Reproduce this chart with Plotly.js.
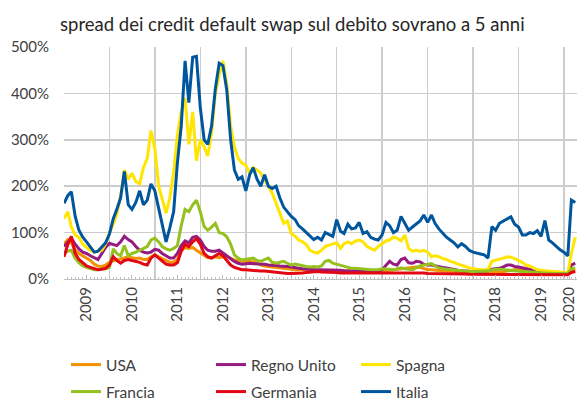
<!DOCTYPE html>
<html>
<head>
<meta charset="utf-8">
<script src="https://cdn.plot.ly/plotly-3.0.1.min.js"></script>
<style>html,body{margin:0;padding:0;background:#fff;}#chart{width:577px;height:401px;}</style>
</head>
<body>
<div id="chart"></div>
<script>
// Monthly observations, first month = January 2009
const startYear = 2009;
const startMonth = 1;

const seriesNames = ["USA", "Regno Unito", "Spagna", "Francia", "Germania", "Italia"];

const usa = [75,85,78,62,55,50,45,40,32,28,27,30,
  36,40,42,43,46,48,46,44,45,42,42,48,
  52,48,44,40,36,36,42,62,68,66,68,62,
  56,50,46,46,48,46,48,48,44,41,40,38,
  38,38,37,34,30,28,27,26,25,24,22,22,
  21,20,20,20,20,19,19,18,18,18,18,18,
  18,18,18,18,17,17,17,17,17,17,17,17,
  18,18,19,20,21,22,22,23,25,26,25,22,
  20,20,19,19,18,18,17,16,16,15,15,15,
  15,15,15,15,15,15,15,16,16,17,18,20,
  22,20,18,16,15,15,14,13,12,12,12,12,
  12,12,18,20];

const regnoUnito = [70,80,88,75,65,58,55,50,45,42,55,68,
  77,75,72,80,92,85,80,70,62,58,56,58,
  64,62,55,50,45,45,55,72,82,78,90,92,
  84,70,62,60,60,62,56,50,42,38,34,32,
  33,34,33,33,32,32,30,30,29,28,28,27,
  26,24,23,22,21,21,20,20,20,20,20,19,
  19,19,18,18,18,17,17,17,16,16,16,17,
  20,30,38,32,30,42,45,35,34,38,37,32,
  30,30,28,27,25,24,22,20,19,18,17,16,
  16,16,17,18,18,21,22,23,26,30,30,27,
  26,24,22,20,19,18,17,16,15,14,14,13,
  12,12,30,34];

const spagna = [130,145,112,95,90,75,68,62,58,60,62,75,
  100,118,140,180,235,215,228,210,205,240,260,320,
  280,200,175,142,175,230,310,360,390,290,360,255,
  300,285,265,315,400,440,470,420,330,285,260,250,
  245,228,240,235,228,215,200,185,165,142,120,125,
  98,92,84,80,74,62,58,56,62,70,73,76,
  78,66,76,80,76,82,84,80,70,66,62,70,
  77,82,84,90,88,82,95,66,60,62,60,62,
  58,48,50,48,44,42,38,36,32,30,27,24,
  22,21,20,20,20,38,40,42,45,48,47,44,
  40,36,30,28,24,20,19,18,16,16,16,15,
  15,13,55,90];

const francia = [55,60,62,45,35,28,25,22,20,20,22,22,
  25,65,55,50,72,50,55,58,62,65,70,84,
  88,80,70,65,62,66,72,115,150,145,160,170,
  145,113,105,112,120,100,98,91,75,52,45,41,
  42,44,45,40,38,42,45,36,34,36,38,34,
  30,32,30,28,27,26,27,26,28,38,40,34,
  32,30,27,25,23,23,22,22,20,20,20,20,
  22,22,21,20,22,24,22,21,20,24,28,30,
  32,33,28,24,22,21,20,19,18,18,16,16,
  16,16,16,17,18,20,21,21,20,20,19,18,
  17,16,16,15,15,14,13,13,12,12,12,12,
  12,12,22,24];

const germania = [48,75,92,55,42,35,28,25,22,20,21,23,
  30,48,40,34,40,42,40,38,36,32,30,45,
  52,45,38,32,30,30,35,60,75,70,80,87,
  75,55,48,45,50,55,50,40,30,25,22,20,
  20,19,18,18,17,17,16,16,15,14,13,12,
  12,12,13,13,14,15,16,16,15,15,14,14,
  14,13,13,13,13,14,14,14,14,14,14,14,
  14,14,14,14,13,13,13,13,13,13,13,13,
  12,12,12,12,11,11,11,11,11,11,11,10,
  10,10,10,10,10,10,10,10,10,10,10,10,
  10,9,9,9,9,9,9,9,9,9,9,9,
  9,9,14,16];

const italia = [163,180,188,135,105,90,80,69,58,60,68,78,
  97,130,150,175,232,160,150,165,190,160,170,205,
  190,150,120,80,110,145,250,330,470,380,478,480,
  370,300,290,330,410,465,460,407,300,235,215,220,
  190,225,240,215,200,225,200,195,200,175,155,145,
  135,128,115,108,100,92,85,90,84,100,95,92,
  128,103,98,118,108,110,122,98,102,90,86,84,
  95,122,115,100,105,135,120,105,112,118,125,138,
  122,138,120,108,98,90,84,78,69,76,70,62,
  58,55,54,52,45,113,105,120,125,130,134,118,
  112,95,95,100,98,104,92,126,84,78,70,63,
  58,50,170,165];

const yearLabels = ["2009","2010","2011","2012","2013","2014","2015","2016","2017","2018","2019","2020"];
const yearLabelDates = ["2009-07-01","2010-07-01","2011-07-01","2012-07-01","2013-07-01","2014-07-01",
  "2015-07-01","2016-07-01","2017-07-01","2018-07-01","2019-07-01","2020-02-15"];
const yearStarts = ["2009-01-01","2010-01-01","2011-01-01","2012-01-01","2013-01-01","2014-01-01",
  "2015-01-01","2016-01-01","2017-01-01","2018-01-01","2019-01-01","2020-01-01"];

const colors = ["#F39200", "#951B81", "#FFE500", "#95C11F", "#E30613", "#00569D"];

function monthDates(n) {
  const out = [];
  for (let i = 0; i < n; i++) {
    const y = startYear + Math.floor((startMonth - 1 + i) / 12);
    const m = ((startMonth - 1 + i) % 12) + 1;
    out.push(y + "-" + String(m).padStart(2, "0") + "-01");
  }
  return out;
}

const allSeries = [usa, regnoUnito, spagna, francia, germania, italia];
const legendOf = ["legend", "legend", "legend", "legend2", "legend2", "legend2"];
const traces = allSeries.map((vals, i) => ({
  type: "scatter",
  mode: "lines",
  name: seriesNames[i],
  x: monthDates(vals.length),
  y: vals,
  line: {color: colors[i], width: 3},
  legend: legendOf[i],
  hoverinfo: "skip"
}));
traces.push({type: "scatter", x: [], y: [], xaxis: "x2", showlegend: false, hoverinfo: "skip"});

const FONT = "Lato, 'Open Sans', sans-serif";
const xRange = ["2009-01-01", "2020-04-15"];

const layout = {
  width: 577, height: 401,
  margin: {l: 64, r: 0, t: 47, b: 122},
  paper_bgcolor: "#ffffff", plot_bgcolor: "#ffffff",
  font: {family: FONT, color: "#404040", size: 15},
  title: {text: "spread dei credit default swap sul debito sovrano a 5 anni",
    font: {family: FONT, size: 18.5, color: "#262626"},
    x: 60/577, xanchor: "left", xref: "container",
    y: 1 - 25/401, yanchor: "middle", yref: "container"},
  showlegend: true,
  xaxis: {
    type: "date", range: xRange,
    tickmode: "array", tickvals: yearStarts,
    showticklabels: false,
    showgrid: true, gridcolor: "#CDCDCD", gridwidth: 1.5,
    ticks: "inside", ticklen: 4, tickcolor: "#BFBFBF",
    showline: true, linecolor: "#BFBFBF", linewidth: 1,
    minor: {dtick: "M1", tick0: "2009-01-01", ticks: "inside", ticklen: 2, tickcolor: "#BFBFBF", showgrid: false},
    zeroline: false, fixedrange: true
  },
  xaxis2: {
    type: "date", range: xRange, overlaying: "x", anchor: "y", side: "bottom",
    tickmode: "array", tickvals: yearLabelDates, ticktext: yearLabels,
    tickangle: -90, ticks: "inside", ticklen: 4, tickcolor: "#BFBFBF",
    ticklabelstandoff: 4, ticklabeloverflow: "allow",
    tickfont: {family: FONT, size: 15, color: "#404040"},
    showgrid: false, showline: false, zeroline: false, fixedrange: true
  },
  yaxis: {
    range: [0, 500], dtick: 100, tick0: 0, ticksuffix: "%",
    showgrid: true, gridcolor: "#CDCDCD", gridwidth: 1.5,
    zeroline: false, showline: false,
    ticks: "", ticklabelstandoff: 14,
    tickfont: {family: FONT, size: 15, color: "#404040"},
    fixedrange: true
  },
  legend: {
    orientation: "h", xref: "container", yref: "container",
    x: 66/577, y: 1 - 348/401, xanchor: "left", yanchor: "top",
    entrywidth: 100, font: {family: FONT, size: 15.5, color: "#404040"},
    bgcolor: "rgba(0,0,0,0)", borderwidth: 0
  },
  legend2: {
    orientation: "h", xref: "container", yref: "container",
    x: 66/577, y: 1 - 375/401, xanchor: "left", yanchor: "top",
    entrywidth: 100, font: {family: FONT, size: 15.5, color: "#404040"},
    bgcolor: "rgba(0,0,0,0)", borderwidth: 0
  }
};

Plotly.newPlot("chart", traces, layout, {staticPlot: true, displayModeBar: false});
</script>
</body>
</html>
